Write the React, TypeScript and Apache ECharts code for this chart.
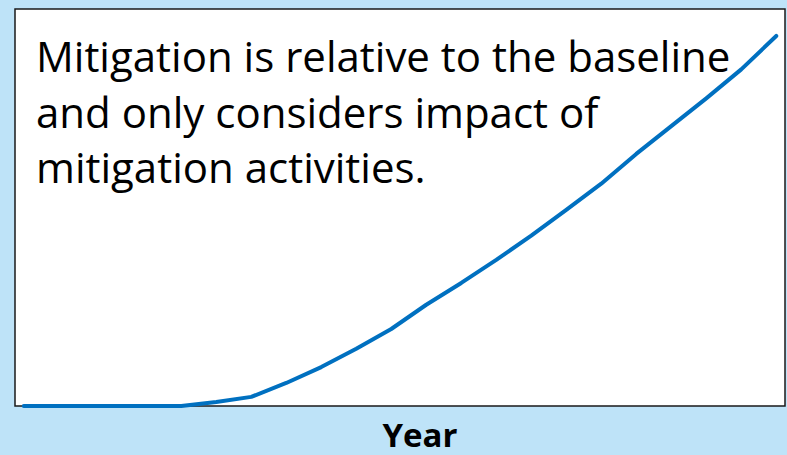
import React, { useEffect, useRef } from "react";
import * as echarts from "echarts";

const years = [2010.5, 2011, 2012, 2013, 2014, 2015, 2016, 2017, 2018, 2019, 2020, 2021, 2022, 2023, 2024, 2025, 2026, 2027, 2028, 2029, 2030, 2031, 2032];
const mitigation = [0, 0, 0, 0, 0, 0, 1.0, 2.3, 5.8, 9.8, 14.4, 19.4, 25.5, 31.0, 36.8, 42.9, 49.4, 56.0, 63.5, 70.5, 77.5, 84.8, 93.2];
const noteText = "Mitigation is relative to the baseline\nand only considers impact of\nmitigation activities.";
const axisTitle = "Year";

export default function App() {
  const ref = useRef<HTMLDivElement>(null);
  useEffect(() => {
    if (!ref.current) return;
    const chart = echarts.init(ref.current, null, { renderer: "svg" });
    chart.setOption({
      animation: false,
      backgroundColor: "#BEE3F8",
      grid: {
        left: 15,
        right: 2,
        top: 9,
        bottom: 49,
        show: true,
        backgroundColor: "#FFFFFF",
        borderColor: "#1a1a1a",
        borderWidth: 1.5,
      },
      xAxis: {
        type: "value",
        min: 2010.25,
        max: 2032.25,
        axisLine: { show: false },
        axisTick: { show: false },
        axisLabel: { show: false },
        splitLine: { show: false },
      },
      yAxis: {
        type: "value",
        min: 0,
        max: 100,
        axisLine: { show: false },
        axisTick: { show: false },
        axisLabel: { show: false },
        splitLine: { show: false },
      },
      graphic: [
        {
          type: "text",
          left: 36,
          top: 28,
          z: 1,
          style: {
            text: noteText,
            fontFamily: "Open Sans",
            fontSize: 42,
            lineHeight: 55.5,
            fill: "#000000",
          },
        },
        {
          type: "text",
          x: 420,
          y: 434,
          z: 1,
          style: {
            text: axisTitle,
            fontFamily: "Open Sans",
            fontWeight: "bold",
            fontSize: 33,
            lineHeight: 33,
            fill: "#000000",
            align: "center",
            verticalAlign: "middle",
          },
        },
      ],
      series: [
        {
          type: "line",
          data: years.map((y, i) => [y, mitigation[i]]),
          showSymbol: false,
          smooth: false,
          z: 5,
          lineStyle: { color: "#0070C0", width: 4, cap: "round", join: "round" },
        },
      ],
    });
    return () => chart.dispose();
  }, []);
  return <div ref={ref} style={{ position: "fixed", left: 0, top: 0, width: 787, height: 455 }} />;
}
